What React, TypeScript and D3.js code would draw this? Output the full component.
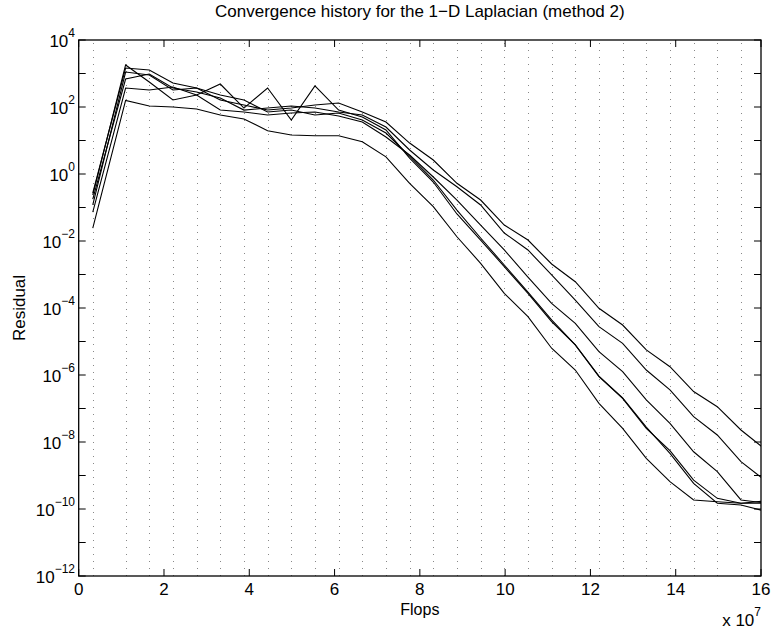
import React from "react";
import * as d3 from "d3";

// Flops (in units of 1e7) at each iteration
const flops = [0.33, 1.10, 1.655, 2.21, 2.765, 3.32, 3.875, 4.43, 4.985, 5.54, 6.095, 6.65, 7.205, 7.76, 8.315, 8.87, 9.425, 9.98, 10.535, 11.09, 11.645, 12.2, 12.755, 13.31, 13.865, 14.42, 14.975, 15.53, 16.085];

const runA = [2.44e-2, 158, 107, 100, 87, 57.7, 43.8, 19.6, 14.6, 13.9, 13.9, 9.2, 3.26, 0.527, 0.106, 1.34e-2, 2.16e-3, 2.75e-4, 5.5e-5, 6.3e-6, 1.41e-6, 1.43e-7, 2.56e-8, 3.26e-9, 6.53e-10, 1.86e-10, 1.65e-10, 1.48e-10, 1.48e-10];
const runB = [0.236, 1795, 557, 162, 228, 486, 93, 369, 41, 424, 81, 50, 20.6, 3.0, 0.577, 6.4e-2, 1.07e-2, 1.71e-3, 2.75e-4, 3.9e-5, 7.9e-6, 8.9e-7, 2.0e-7, 2.56e-8, 5.5e-9, 7.3e-10, 2.08e-10, 1.48e-10, 1.73e-10];
const runC = [0.119, 1109, 902, 321, 369, 228, 162, 71, 81, 57.7, 66, 41, 16.7, 3.44, 0.662, 8.4e-2, 1.23e-2, 1.92e-3, 3.0e-4, 4.4e-5, 7.9e-6, 9.3e-7, 2.06e-7, 2.8e-8, 4.6e-9, 5.8e-10, 1.48e-10, 1.32e-10, 8.7e-11];
const runD = [7.3e-2, 369, 321, 395, 228, 81, 71, 57.7, 66, 71, 53.9, 35.6, 12.7, 3.69, 0.813, 0.167, 3.0e-2, 5.4e-3, 8.4e-4, 1.38e-4, 3.5e-5, 4.97e-6, 1.26e-6, 1.8e-7, 3.6e-8, 5.1e-9, 1.3e-9, 1.86e-10, 1.51e-10];
const runE = [0.179, 685, 966, 369, 281, 186, 81, 93, 107, 93, 71, 57.7, 25.3, 5.2, 1.32, 0.418, 0.119, 1.73e-2, 5.4e-3, 9.7e-4, 1.73e-4, 2.77e-5, 8.8e-6, 1.41e-6, 3.6e-7, 5.7e-8, 1.62e-8, 2.58e-9, 7.3e-10];
const runF = [0.271, 1459, 1271, 520, 369, 162, 115, 81, 93, 115, 132, 71, 35.6, 8.4, 2.62, 0.527, 0.167, 3.0e-2, 1.07e-2, 2.06e-3, 6.1e-4, 9.8e-5, 3.1e-5, 5.6e-6, 1.77e-6, 3.2e-7, 1.13e-7, 2.28e-8, 6.2e-9];

const runs = [runA, runB, runC, runD, runE, runF];

const xTicks = [0, 2, 4, 6, 8, 10, 12, 14, 16];
const yExpAll = [-12, -11, -10, -9, -8, -7, -6, -5, -4, -3, -2, -1, 0, 1, 2, 3, 4];
const yExpLabels = [-12, -10, -8, -6, -4, -2, 0, 2, 4];

const titleText = "Convergence history for the 1\u2212D Laplacian (method 2)";
const xLabel = "Flops";
const yLabel = "Residual";

const W = 772;
const H = 629;
const L = 78.7;
const R = 761;
const T = 40;
const B = 576;
const FONT = "'Liberation Sans', Arial, Helvetica, sans-serif";

export default function App() {
  const x = d3.scaleLinear().domain([0, 16]).range([L, R]);
  const y = d3.scaleLog().domain([1e-12, 1e4]).range([B, T]);
  const line = d3
    .line<number>()
    .x((_, i) => x(flops[i]))
    .y((d) => y(d));

  const gridX = flops.filter((f) => f <= 16);
  const tick = 7;

  return (
    <svg
      width={W}
      height={H}
      style={{ position: "absolute", left: 0, top: 0, background: "#fff" }}
      fontFamily={FONT}
    >
      <defs>
        <clipPath id="plotClip">
          <rect x={L} y={T} width={R - L} height={B - T} />
        </clipPath>
      </defs>
      <rect x={0} y={0} width={W} height={H} fill="#fff" />
      {/* dotted vertical grid */}
      {gridX.map((f, i) => (
        <line
          key={"g" + i}
          x1={Math.round(x(f)) + 0.5}
          x2={Math.round(x(f)) + 0.5}
          y1={B}
          y2={T}
          stroke="#888"
          strokeWidth={1}
          strokeDasharray="1 6"
        />
      ))}
      {/* data lines */}
      <g clipPath="url(#plotClip)">
        {runs.map((r, i) => (
          <path key={"r" + i} d={line(r) || ""} fill="none" stroke="#000" strokeWidth={1.1} />
        ))}
      </g>
      {/* axes box */}
      <rect x={L} y={T} width={R - L} height={B - T} fill="none" stroke="#000" strokeWidth={1.3} />
      {/* x ticks */}
      {xTicks.map((t) => (
        <g key={"xt" + t}>
          <line x1={x(t)} x2={x(t)} y1={B} y2={B - tick} stroke="#000" strokeWidth={1} />
          <line x1={x(t)} x2={x(t)} y1={T} y2={T + tick} stroke="#000" strokeWidth={1} />
          <text x={x(t)} y={595} textAnchor="middle" fontSize={17}>
            {t}
          </text>
        </g>
      ))}
      {/* y ticks */}
      {yExpAll.map((e) => (
        <g key={"yt" + e}>
          <line x1={L} x2={L + tick} y1={y(Math.pow(10, e))} y2={y(Math.pow(10, e))} stroke="#000" strokeWidth={1} />
          <line x1={R} x2={R - tick} y1={y(Math.pow(10, e))} y2={y(Math.pow(10, e))} stroke="#000" strokeWidth={1} />
        </g>
      ))}
      {yExpLabels.map((e) => (
        <text key={"yl" + e} x={75} y={y(Math.pow(10, e)) + 7} textAnchor="end" fontSize={17}>
          10
          <tspan dy={-10} fontSize={12}>
            {e < 0 ? "\u2212" + Math.abs(e) : String(e)}
          </tspan>
        </text>
      ))}
      {/* labels */}
      <text x={(L + R) / 2} y={17} textAnchor="middle" fontSize={17}>
        {titleText}
      </text>
      <text x={(L + R) / 2} y={615} textAnchor="middle" fontSize={16}>
        {xLabel}
      </text>
      <text
        transform={`translate(25,${(T + B) / 2}) rotate(-90)`}
        textAnchor="middle"
        fontSize={17}
      >
        {yLabel}
      </text>
      <text x={761} y={626} textAnchor="end" fontSize={17}>
        x 10
        <tspan dy={-10} fontSize={12}>
          7
        </tspan>
      </text>
    </svg>
  );
}
